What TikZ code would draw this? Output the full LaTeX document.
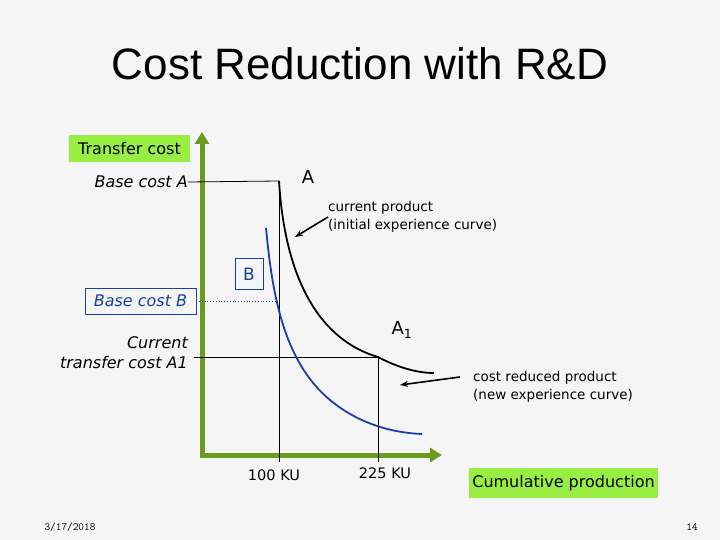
\documentclass[tikz,border=0pt]{standalone}
\usepackage{fontspec}
\setmainfont{DejaVu Sans}
\newfontfamily\titlefont{Liberation Sans}
\usetikzlibrary{arrows.meta}
\definecolor{axisgreen}{HTML}{6B9A1E}
\definecolor{boxgreen}{HTML}{99EE44}
\definecolor{curveblue}{HTML}{1A3FA8}
\tikzset{
  axis/.style={axisgreen, line width=5pt, -{Triangle[length=12pt,width=14pt]}},
  guide/.style={black, line width=0.8pt},
  lbl/.style={font=\fontsize{13.5}{18}\selectfont, inner sep=0pt},
  ital/.style={font=\fontsize{16}{20}\selectfont\itshape, inner sep=0pt},
  callout/.style={black, line width=1.6pt, -{Stealth[length=8pt]}},
  greenbox/.style={fill=boxgreen, font=\fontsize{16}{18}\selectfont, inner sep=2pt},
}
\begin{document}
\begin{tikzpicture}[x=1pt,y=-1pt]
\useasboundingbox (0,0) rectangle (720,540);
\fill[gray!8] (0,0) rectangle (720,540);
\node[font=\titlefont\fontsize{44}{50}\selectfont] (title) at (360,64) {Cost Reduction with R\&D};
\coordinate (O) at (202,455);
\coordinate (ytop) at (202,132);
\coordinate (xend) at (442,455);
\draw[axis] ([yshift=-2.5pt]O) -- (ytop);
\draw[axis] ([xshift=-2.5pt]O) -- (xend);
\node[greenbox, minimum width=121pt, minimum height=27pt] (ylab) at (129.5,148.5) {Transfer cost};
\node[greenbox, minimum width=189pt, minimum height=30pt] (xlab) at (563.5,483) {Cumulative production};
% Base cost A
\node[ital, anchor=east] (bca) at (188,182) {Base cost A};
\coordinate (A) at (279,181);
\coordinate (Abot) at (279,462);
\draw[guide] (bca.east) -- (A);
\draw[guide] (A) -- (Abot);
\node[font=\fontsize{18}{20}\selectfont] (Alab) at (308,177) {A};
% black curve
\coordinate (A1) at (378,357);
\draw[black, line width=1.8pt] (A) .. controls (285,280) and (320,340) .. (A1) .. controls (395,366) and (415,373) .. (434,373);
\node[font=\fontsize{18}{20}\selectfont] (A1lab) at (402,330) {A\textsubscript{1}};
% current transfer cost
\node[ital, anchor=east, align=right] (ctc) at (188,353) {Current\\transfer cost A1};
\coordinate (ctcl) at (194,357);
\coordinate (A1bot) at (378,462);
\draw[guide] (ctcl) -- (A1);
\draw[guide] (A1) -- (A1bot);
% blue curve
\draw[curveblue, line width=1.8pt] (266,228) .. controls (272,290) and (282,360) .. (330,400) .. controls (360,425) and (395,433) .. (422,434);
% B
\node[draw=curveblue, text=curveblue, font=\fontsize{17}{19}\selectfont, minimum width=28pt, minimum height=31pt, inner sep=0pt] (B) at (249,274) {B};
\node[draw=curveblue, text=curveblue, font=\fontsize{16}{18}\selectfont\itshape, minimum width=111pt, minimum height=26pt, inner sep=0pt] (bcb) at (140.5,301) {Base cost B};
\coordinate (Bpt) at (279,301);
\draw[curveblue, dotted, line width=0.8pt] (bcb.east) -- (Bpt);
% callouts
\node[lbl, anchor=north west, align=left] (cur) at (328,201) {current product\\(initial experience curve)};
\coordinate (curtip) at (295,237);
\draw[callout] (328,217) -- (curtip);
\node[lbl, anchor=north west, align=left] (red) at (473,371) {cost reduced product\\(new experience curve)};
\coordinate (redtip) at (400,385);
\draw[callout] (460,377) -- (redtip);
% ticks
\node[lbl, font=\fontsize{14.5}{16}\selectfont] (t100) at (274,475) {100 KU};
\node[lbl, font=\fontsize{14.5}{16}\selectfont] (t225) at (385,473) {225 KU};
% footer
\node[font=\ttfamily\fontsize{11}{12}\selectfont] (date) at (70,527) {3/17/2018};
\node[font=\ttfamily\fontsize{11}{12}\selectfont] (page) at (692,527) {14};
\end{tikzpicture}
\end{document}
